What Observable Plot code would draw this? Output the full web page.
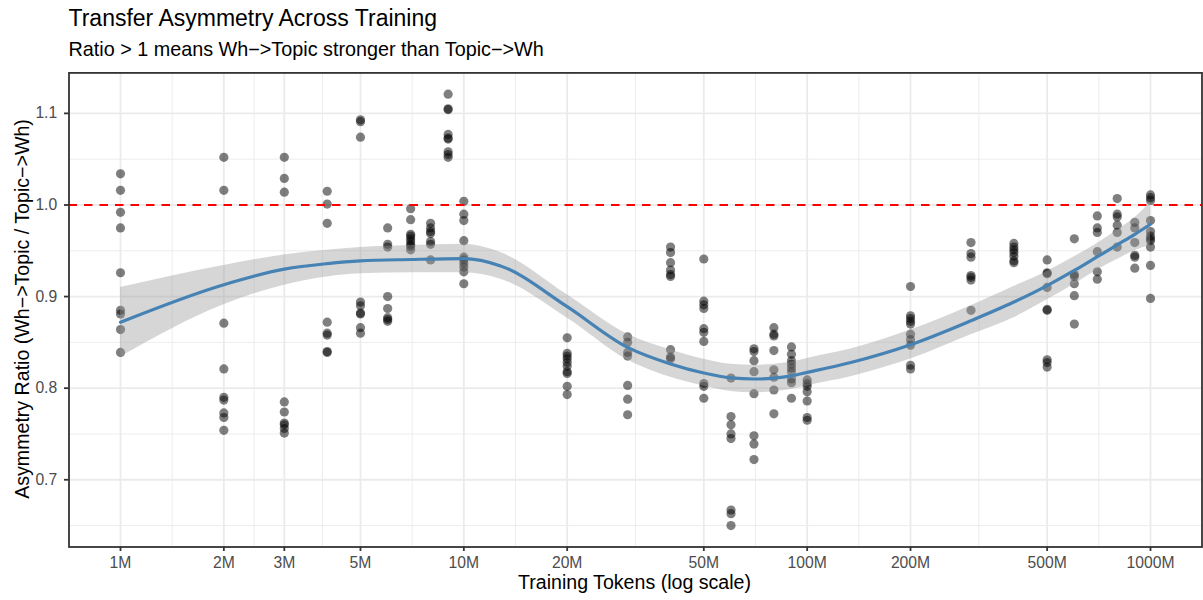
<!DOCTYPE html>
<html><head><meta charset="utf-8">
<script src="https://cdn.jsdelivr.net/npm/d3@7"></script>
<script src="https://cdn.jsdelivr.net/npm/@observablehq/plot@0.6"></script>
<style>
body{margin:0;background:#fff;}
#wrap{position:relative;width:1203px;height:600px;font-family:"Liberation Sans",Arial,Helvetica,sans-serif;}
.t{position:absolute;white-space:nowrap;line-height:1;color:#000;}
svg{display:block;}
</style></head><body><div id="wrap"></div>
<script>
// ---- data ----
const tokensM = [1,2,3,4,5,6,7,8,9,10,20,30,40,50,60,70,80,90,100,200,300,400,500,600,700,800,900,1000];
const ratios = [
  [1.034,1.016,0.992,0.975,0.926,0.885,0.881,0.864,0.839],
  [1.052,1.016,0.871,0.821,0.790,0.787,0.773,0.768,0.754],
  [1.052,1.029,1.014,0.785,0.774,0.762,0.760,0.756,0.751],
  [1.015,1.001,0.980,0.872,0.860,0.858,0.840,0.839],
  [1.093,1.091,1.074,0.894,0.890,0.882,0.881,0.866,0.860],
  [0.975,0.957,0.954,0.900,0.887,0.877,0.875,0.873],
  [0.996,0.984,0.968,0.966,0.963,0.960,0.957,0.955,0.951],
  [0.980,0.975,0.971,0.969,0.960,0.957,0.940],
  [1.121,1.105,1.104,1.077,1.073,1.072,1.058,1.055,1.052],
  [1.004,0.990,0.983,0.961,0.943,0.940,0.936,0.932,0.927,0.914],
  [0.855,0.838,0.835,0.832,0.828,0.824,0.818,0.816,0.802,0.793],
  [0.856,0.850,0.839,0.835,0.803,0.788,0.771],
  [0.954,0.948,0.937,0.929,0.924,0.922,0.842,0.834,0.832],
  [0.941,0.895,0.891,0.887,0.865,0.861,0.851,0.805,0.802,0.789],
  [0.811,0.769,0.760,0.750,0.745,0.667,0.663,0.650],
  [0.843,0.840,0.830,0.818,0.794,0.748,0.739,0.722],
  [0.866,0.859,0.857,0.841,0.820,0.812,0.798,0.772],
  [0.845,0.837,0.830,0.826,0.822,0.818,0.810,0.806,0.789],
  [0.809,0.805,0.802,0.796,0.786,0.768,0.765],
  [0.911,0.879,0.876,0.873,0.870,0.859,0.853,0.847,0.825,0.821],
  [0.959,0.947,0.943,0.923,0.921,0.918,0.885],
  [0.958,0.954,0.951,0.948,0.944,0.939,0.937],
  [0.940,0.926,0.925,0.910,0.886,0.885,0.831,0.828,0.823],
  [0.963,0.924,0.922,0.914,0.901,0.870],
  [0.988,0.975,0.970,0.949,0.927,0.919],
  [1.007,0.990,0.987,0.978,0.970,0.954],
  [0.981,0.975,0.959,0.945,0.943,0.931],
  [1.011,1.008,1.005,0.983,0.971,0.966,0.963,0.961,0.954,0.934,0.898]
];
// smoother (loess fit and 95% band)
const smoothTokensM = [1,2,3,4,5,7,10,12.8,20,30,40,50,60,70,80,90,100,134,200,300,400,500,600,700,800,900,1000];
const smoothFit  = [0.872,0.913,0.930,0.936,0.939,0.9405,0.9415,0.9335,0.889,0.8445,0.8264,0.8165,0.8112,0.8100,0.8110,0.8135,0.8172,0.828,0.8474,0.8736,0.894,0.912,0.9285,0.9435,0.9565,0.968,0.979];
const smoothLow  = [0.834,0.891,0.9125,0.9215,0.925,0.926,0.926,0.919,0.8765,0.8307,0.8118,0.8025,0.7965,0.7950,0.7960,0.7985,0.8027,0.8125,0.8318,0.8583,0.877,0.8965,0.9135,0.929,0.9405,0.950,0.956];
const smoothHigh = [0.910,0.934,0.9455,0.9506,0.9535,0.9557,0.957,0.948,0.902,0.859,0.842,0.8315,0.826,0.825,0.826,0.8285,0.8325,0.8427,0.8634,0.89,0.911,0.9275,0.9435,0.958,0.9725,0.986,1.003];
const xTickValuesM = [1,2,3,5,10,20,50,100,200,500,1000];
const xTickLabels = ["1M","2M","3M","5M","10M","20M","50M","100M","200M","500M","1000M"];
const yTickValues = [0.7,0.8,0.9,1.0,1.1];
const yTickLabels = ["0.7","0.8","0.9","1.0","1.1"];
const yMinorValues = [0.65,0.75,0.85,0.95,1.05];
const referenceRatio = [1.0];

const titleText = "Transfer Asymmetry Across Training";
const subtitleText = "Ratio > 1 means Wh\u2212>Topic stronger than Topic\u2212>Wh";
const xTitle = "Training Tokens (log scale)";
const yTitle = "Asymmetry Ratio (Wh\u2212>Topic / Topic\u2212>Wh)";

// ---- build tables ----
const points = tokensM.flatMap((t, i) => ratios[i].map(r => ({t, r})));
const smooth = smoothTokensM.map((t, i) => ({t, fit: smoothFit[i], lo: smoothLow[i], hi: smoothHigh[i]}));
const xMinorM = d3.pairs(xTickValuesM).map(([a, b]) => Math.sqrt(a * b));
const xTicks = xTickValuesM.map((v, i) => ({v, label: xTickLabels[i]}));
const yTicks = yTickValues.map((v, i) => ({v, label: yTickLabels[i]}));

const FONT = '"Liberation Sans", Arial, Helvetica, sans-serif';
const grid = "#ebebeb";
const tickCol = "#333333";
const labCol = "#4d4d4d";

const chart = Plot.plot({
  width: 1203, height: 600,
  marginLeft: 68.5, marginRight: 1.5, marginTop: 72.4, marginBottom: 53.5,
  x: {type: "log", domain: [10 ** -0.15, 10 ** 3.15]},
  y: {domain: [0.6266, 1.1442]},
  style: {fontFamily: FONT, background: "white", overflow: "visible"},
  marks: [
    Plot.gridX(xMinorM, {stroke: grid, strokeOpacity: 1, strokeWidth: 0.9}),
    Plot.gridY(yMinorValues, {stroke: grid, strokeOpacity: 1, strokeWidth: 0.9}),
    Plot.gridX(xTickValuesM, {stroke: grid, strokeOpacity: 1, strokeWidth: 1.8}),
    Plot.gridY(yTickValues, {stroke: grid, strokeOpacity: 1, strokeWidth: 1.8}),
    Plot.dot(points, {x: "t", y: "r", r: 4.6, fill: "black", fillOpacity: 0.5, stroke: null}),
    Plot.areaY(smooth, {x: "t", y1: "lo", y2: "hi", fill: "#999999", fillOpacity: 0.4, curve: "monotone-x"}),
    Plot.lineY(smooth, {x: "t", y: "fit", stroke: "#4682B4", strokeWidth: 3.2, curve: "monotone-x"}),
    Plot.ruleY(referenceRatio, {stroke: "#ff0000", strokeWidth: 2, strokeDasharray: "8.5,7"}),
    Plot.frame({stroke: tickCol, strokeWidth: 1.8}),
    // tick marks
    Plot.axisX(xTickValuesM, {tickFormat: () => "", tickSize: 4.5, stroke: tickCol, strokeWidth: 1.8, label: null}),
    Plot.axisY(yTickValues, {tickFormat: () => "", tickSize: 4.5, stroke: tickCol, strokeWidth: 1.8, label: null}),
    // tick labels
    Plot.text(xTicks, {x: "v", text: "label", frameAnchor: "bottom", lineAnchor: "top", dy: 10.2,
      fontSize: 15.7, fill: labCol}),
    Plot.text(yTicks, {y: "v", text: "label", frameAnchor: "left", textAnchor: "end", dx: -11.8,
      fontSize: 15.7, fill: labCol})
  ]
});

const wrap = document.getElementById("wrap");
wrap.appendChild(chart);

function addText(txt, size, css) {
  const d = document.createElement("div");
  d.className = "t";
  d.textContent = txt;
  d.style.fontSize = size + "px";
  Object.assign(d.style, css);
  wrap.appendChild(d);
  return d;
}
// baseline offset for line-height:1 in Liberation Sans ~0.8465em
addText(titleText, 23, {left: "68.5px", top: (26.5 - 0.8465 * 23) + "px"});
addText(subtitleText, 19.8, {left: "68.5px", top: (56.8 - 0.8465 * 19.8) + "px"});
addText(xTitle, 19.6, {left: "634.5px", top: (590 - 0.8465 * 19.6) + "px", transform: "translateX(-50%)"});
addText(yTitle, 19.6, {left: "30px", top: "309px", transformOrigin: "0 0",
  transform: "rotate(-90deg) translate(-50%, -0.8465em)"});
</script>
</body></html>
